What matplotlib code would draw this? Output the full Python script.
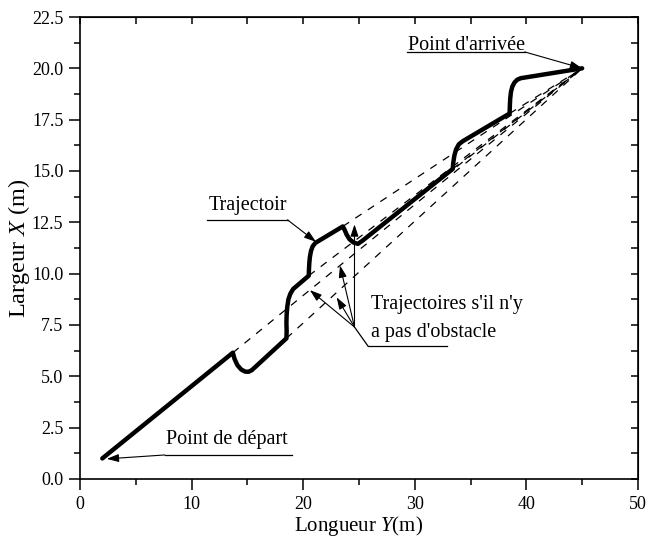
import matplotlib
matplotlib.use("Agg")
import matplotlib.pyplot as plt
from matplotlib.ticker import MultipleLocator, FormatStrFormatter

plt.rcParams['font.family'] = ['Liberation Serif', 'DejaVu Serif']
plt.rcParams['mathtext.fontset'] = 'custom'
plt.rcParams['mathtext.rm'] = 'Liberation Serif'
plt.rcParams['mathtext.it'] = 'Liberation Serif:italic'

# trajectoire suivie (Y, X) en metres
traj_y = [2.0, 13.7, 13.85, 14.1, 14.45, 14.8, 15.1, 15.4, 15.8, 18.5,
          18.52, 18.5, 18.52, 18.58, 18.68, 18.85, 19.1, 20.5,
          20.52, 20.55, 20.6, 20.7, 20.85, 21.1, 23.55, 23.7, 23.9, 24.15,
          24.5, 24.9, 25.3, 33.4, 33.45, 33.55, 33.7, 33.95, 34.3, 38.5,
          38.52, 38.55, 38.62, 38.75, 38.95, 39.2, 39.5, 45.0]
traj_x = [1.0, 6.15, 5.85, 5.55, 5.33, 5.23, 5.22, 5.3, 5.5, 6.85,
          7.2, 7.6, 8.0, 8.4, 8.75, 9.02, 9.25, 9.9,
          10.2, 10.5, 10.8, 11.1, 11.33, 11.5, 12.3, 12.15, 11.9, 11.68,
          11.52, 11.45, 11.6, 15.1, 15.4, 15.75, 16.05, 16.3, 16.45, 17.8,
          18.15, 18.5, 18.85, 19.12, 19.32, 19.45, 19.52, 20.0]

# points de depart des trajectoires sans obstacle (vers le point d'arrivee)
direct_y0 = [13.7, 18.5, 20.5, 23.55, 25.3, 33.4, 38.5]
direct_x0 = [6.15, 6.85, 9.9, 12.3, 11.6, 15.1, 17.8]

fig = plt.figure(figsize=(6.47, 5.38), dpi=100)
ax = fig.add_axes([0.1236, 0.1097, 0.8624, 0.8587])

goal_y, goal_x = traj_y[-1], traj_x[-1]
for y0, x0 in zip(direct_y0, direct_x0):
    ax.plot([y0, goal_y], [x0, goal_x], color='black', lw=0.9,
            linestyle=(0, (6, 6)), zorder=2)

ax.plot(traj_y, traj_x, color='black', lw=3.2, solid_capstyle='round',
        solid_joinstyle='round', zorder=3)

ax.set_xlim(0, 50)
ax.set_ylim(0, 22.5)
ax.xaxis.set_major_locator(MultipleLocator(10))
ax.xaxis.set_minor_locator(MultipleLocator(5))
ax.yaxis.set_major_locator(MultipleLocator(2.5))
ax.yaxis.set_minor_locator(MultipleLocator(1.25))
ax.yaxis.set_major_formatter(FormatStrFormatter('%.1f'))
ax.tick_params(which='major', direction='out', length=8, width=1.1,
               labelsize=13, pad=4)
ax.tick_params(which='minor', direction='out', length=4.5, width=1.1)
for s in ax.spines.values():
    s.set_linewidth(1.2)

# graduations interieures en haut et a droite
top = ax.secondary_xaxis('top')
top.xaxis.set_major_locator(MultipleLocator(5))
top.tick_params(direction='in', length=5, width=1.1, labeltop=False)
right = ax.secondary_yaxis('right')
right.yaxis.set_major_locator(MultipleLocator(1.25))
right.tick_params(direction='in', length=5, width=1.1, labelright=False)

ax.set_xlabel('Longueur $Y$(m)', fontsize=15, labelpad=1)
ax.set_ylabel('Largeur $X$ (m)', fontsize=17.5, labelpad=0)

arrow = dict(arrowstyle='-|>,head_length=0.6,head_width=0.2', color='black',
             lw=0.8, shrinkA=0, shrinkB=0, mutation_scale=12)
line_kw = dict(color='black', lw=0.9, zorder=4)

# Point de depart
ax.text(7.7, 1.9, 'Point de départ', fontsize=14.5, ha='left', va='center')
ax.plot([7.6, 19.0], [1.17, 1.17], **line_kw)
ax.annotate('', xy=(2.4, 0.98), xytext=(7.6, 1.17), arrowprops=arrow)

# Point d'arrivee
ax.text(29.4, 21.1, "Point d'arrivée", fontsize=14.5, ha='left', va='center')
ax.plot([29.3, 39.85], [20.8, 20.8], **line_kw)
ax.annotate('', xy=(goal_y, goal_x), xytext=(39.85, 20.8), arrowprops=arrow)

# Trajectoire
ax.text(11.5, 13.3, 'Trajectoir', fontsize=14.5, ha='left', va='center')
ax.plot([11.4, 18.6], [12.62, 12.62], **line_kw)
ax.annotate('', xy=(21.15, 11.55), xytext=(18.6, 12.62), arrowprops=arrow)

# Trajectoires s'il n'y a pas d'obstacle
ax.text(26.1, 8.5, "Trajectoires s'il n'y", fontsize=14.5, ha='left', va='center')
ax.text(26.1, 7.15, "a pas d'obstacle", fontsize=14.5, ha='left', va='center')
ax.plot([25.8, 32.9], [6.48, 6.48], **line_kw)
ax.plot([25.8, 24.6], [6.48, 7.4], **line_kw)
for tip in [(24.6, 12.4), (23.3, 10.4), (23.0, 8.85), (20.6, 9.2)]:
    ax.annotate('', xy=tip, xytext=(24.6, 7.4), arrowprops=arrow)

fig.savefig('out.png', dpi=100)
